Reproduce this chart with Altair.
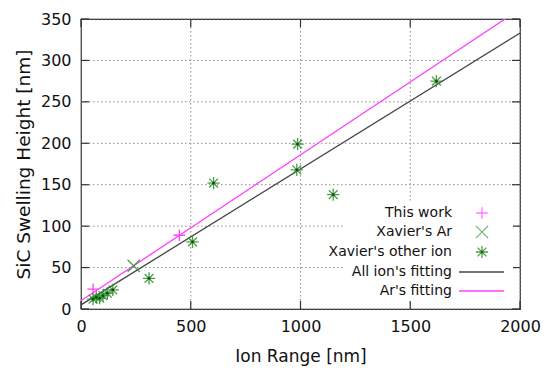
import altair as alt
import pandas as pd

# ---- data ----
this_x = [55, 448]
this_y = [24, 89]
xar_x = [240]
xar_y = [52]
other_x = [55, 70, 85, 100, 120, 145, 310, 508, 604, 983, 987, 1149, 1619]
other_y = [12, 14, 13, 16, 19, 23, 37, 81, 152, 168, 199, 138, 275]
fit_all_x = [0, 2000]
fit_all_y = [5, 333]
fit_ar_x = [0, 2000]
fit_ar_y = [10, 362]
x_ticks = [0, 500, 1000, 1500, 2000]
y_ticks = [0, 50, 100, 150, 200, 250, 300, 350]
legend_labels = ["This work", "Xavier's Ar", "Xavier's other ion", "All ion's fitting", "Ar's fitting"]

W, H = 439, 290
FONT = "DejaVu Sans"
PINK = "#ff40ff"
GREEN = "#2f8f2f"
DARK = "#454545"

PLUS = "M-1,0H1M0,-1V1"
CROSS = "M-1,-1L1,1M-1,1L1,-1"
STAR = "M-1,0H1M0,-1V1M-0.72,-0.72L0.72,0.72M-0.72,0.72L0.72,-0.72"

xs = alt.Scale(domain=[0, 2000], nice=False)
ys = alt.Scale(domain=[0, 350], nice=False)

xaxis = alt.Axis(values=x_ticks, format="d", grid=False, labelFlush=False, ticks=False,
                 labelPadding=9, labelFontSize=16, labelFont=FONT,
                 labelColor="#111", title="Ion Range [nm]", titleFont=FONT,
                 titleFontSize=17, titleFontWeight="normal", titleColor="#111",
                 titlePadding=14, domain=False)
yaxis = alt.Axis(values=y_ticks, format="d", grid=False, labelFlush=False, ticks=False,
                 labelPadding=10, labelFontSize=16, labelFont=FONT,
                 labelColor="#111", title="SiC Swelling Height [nm]", titleFont=FONT,
                 titleFontSize=18.5, titleFontWeight="normal", titleColor="#111",
                 titlePadding=7, domain=False)

df_this = pd.DataFrame({"x": this_x, "y": this_y})
df_xar = pd.DataFrame({"x": xar_x, "y": xar_y})
df_other = pd.DataFrame({"x": other_x, "y": other_y})
df_all = pd.DataFrame({"x": fit_all_x, "y": fit_all_y})
df_ar = pd.DataFrame({"x": fit_ar_x, "y": fit_ar_y})
df_xt = pd.DataFrame({"v": x_ticks})
df_yt = pd.DataFrame({"v": y_ticks})
df_one = pd.DataFrame({"k": [0]})

base = alt.Chart(df_all).mark_point(opacity=0).encode(
    x=alt.X("x:Q", scale=xs, axis=xaxis),
    y=alt.Y("y:Q", scale=ys, axis=yaxis),
)

# dotted grid
grid_x = alt.Chart(df_xt).mark_rule(color="#8c8c8c", strokeWidth=1, strokeDash=[1.5, 2.5]).encode(
    x=alt.X("v:Q", scale=xs), y=alt.value(0), y2=alt.value(H))
grid_y = alt.Chart(df_yt).mark_rule(color="#8c8c8c", strokeWidth=1, strokeDash=[1.5, 2.5]).encode(
    y=alt.Y("v:Q", scale=ys), x=alt.value(0), x2=alt.value(W))

line_all = alt.Chart(df_all).mark_line(color=DARK, strokeWidth=1.3, clip=True).encode(
    x=alt.X("x:Q", scale=xs), y=alt.Y("y:Q", scale=ys))
line_ar = alt.Chart(df_ar).mark_line(color=PINK, strokeWidth=1.3, clip=True).encode(
    x=alt.X("x:Q", scale=xs), y=alt.Y("y:Q", scale=ys))

pts_other = alt.Chart(df_other).mark_point(shape=STAR, size=150, color=GREEN,
                                            strokeWidth=1.3, opacity=0.85).encode(
    x=alt.X("x:Q", scale=xs), y=alt.Y("y:Q", scale=ys))
pts_other_c = alt.Chart(df_other).mark_circle(size=7, color="#0b4d0b", opacity=1).encode(
    x=alt.X("x:Q", scale=xs), y=alt.Y("y:Q", scale=ys))
pts_xar = alt.Chart(df_xar).mark_point(shape=CROSS, size=150, color="#3d963d",
                                        strokeWidth=1.3, opacity=0.9).encode(
    x=alt.X("x:Q", scale=xs), y=alt.Y("y:Q", scale=ys))
pts_this = alt.Chart(df_this).mark_point(shape=PLUS, size=130, color=PINK,
                                          strokeWidth=1.3, opacity=1).encode(
    x=alt.X("x:Q", scale=xs), y=alt.Y("y:Q", scale=ys))

# inward ticks on all four sides (gnuplot style)
TL = 8
tick_b = alt.Chart(df_xt).mark_rule(color="#333", strokeWidth=1.2).encode(
    x=alt.X("v:Q", scale=xs), y=alt.value(H), y2=alt.value(H - TL))
tick_t = alt.Chart(df_xt).mark_rule(color="#333", strokeWidth=1.2).encode(
    x=alt.X("v:Q", scale=xs), y=alt.value(0), y2=alt.value(TL))
tick_l = alt.Chart(df_yt).mark_rule(color="#333", strokeWidth=1.2).encode(
    y=alt.Y("v:Q", scale=ys), x=alt.value(0), x2=alt.value(TL))
tick_r = alt.Chart(df_yt).mark_rule(color="#333", strokeWidth=1.2).encode(
    y=alt.Y("v:Q", scale=ys), x=alt.value(W), x2=alt.value(W - TL))

# legend (gnuplot style: right-aligned text, sample on the right, opaque box)
leg_bg = alt.Chart(df_one).mark_rect(color="white").encode(
    x=alt.value(262), x2=alt.value(432), y=alt.value(183), y2=alt.value(282))
rows = [194, 213, 233, 253, 272]
TX, SX = 371, 401
leg_text = alt.layer(*[
    alt.Chart(df_one).mark_text(text=lab, align="right", baseline="middle", font=FONT,
                                fontSize=14, color="#111").encode(
        x=alt.value(TX), y=alt.value(r))
    for lab, r in zip(legend_labels, rows)
])
leg_sym = alt.layer(
    alt.Chart(df_one).mark_point(shape=PLUS, size=130, color=PINK, strokeWidth=1.3).encode(
        x=alt.value(SX), y=alt.value(rows[0])),
    alt.Chart(df_one).mark_point(shape=CROSS, size=150, color="#3d963d", strokeWidth=1.3).encode(
        x=alt.value(SX), y=alt.value(rows[1])),
    alt.Chart(df_one).mark_point(shape=STAR, size=150, color=GREEN, strokeWidth=1.3, opacity=0.85).encode(
        x=alt.value(SX), y=alt.value(rows[2])),
    alt.Chart(df_one).mark_circle(size=7, color="#0b4d0b").encode(
        x=alt.value(SX), y=alt.value(rows[2])),
    alt.Chart(df_one).mark_rule(color=DARK, strokeWidth=1.3).encode(
        x=alt.value(378), x2=alt.value(423), y=alt.value(rows[3])),
    alt.Chart(df_one).mark_rule(color=PINK, strokeWidth=1.3).encode(
        x=alt.value(378), x2=alt.value(423), y=alt.value(rows[4])),
)

chart = alt.layer(
    base, grid_x, grid_y, line_all, line_ar, pts_other, pts_other_c, pts_xar, pts_this,
    tick_b, tick_t, tick_l, tick_r, leg_bg, leg_text, leg_sym
).properties(
    width=W, height=H,
    background="white",
    autosize=alt.AutoSizeParams(type="none"),
    padding={"left": 81, "top": 19, "right": 24, "bottom": 63},
).configure_view(
    stroke="#333", strokeWidth=1.2
)

chart.save("out.html", embed_options={"renderer": "svg", "actions": False})
